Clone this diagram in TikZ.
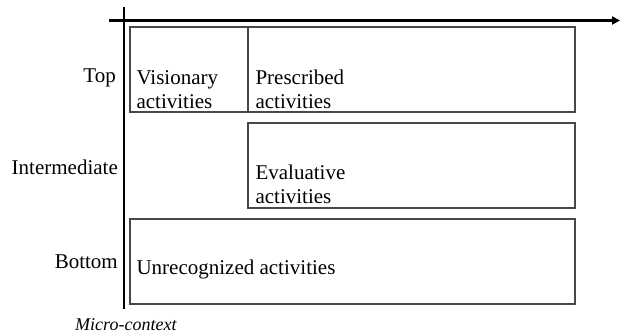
\documentclass[tikz,border=0pt]{standalone}
\usepackage{fontspec}
\setmainfont{Liberation Serif}
\usetikzlibrary{arrows.meta}
\begin{document}
\begin{tikzpicture}[x=1pt,y=-1pt,
  axis/.style={line width=2.6pt,black},
  zone/.style={draw=black!72,line width=1.3pt,rectangle,inner sep=0pt,
    minimum height=85pt},
  txt/.style={inner sep=0pt,font=\fontsize{21}{24}\selectfont,align=left,anchor=south west},
  lvl/.style={inner sep=0pt,font=\fontsize{21}{24}\selectfont,anchor=base east},
  note/.style={inner sep=0pt,font=\fontsize{18}{22}\selectfont\itshape,anchor=base west}]
\useasboundingbox (0,0) rectangle (626,335);

% axes
\coordinate (vtop) at (124,7);
\coordinate (vbot) at (124,309);
\coordinate (hl) at (109,20.5);
\coordinate (hr) at (620,20.5);
\draw[axis] (vtop) -- (vbot);
\draw[axis,-{Triangle[length=8pt,width=8pt]}] (hl) -- (hr);

% activity zones
\node[zone,minimum width=118pt] (vis) at (189,69.5) {};
\node[zone,minimum width=327pt] (pres) at (411.5,69.5) {};
\node[zone,minimum width=327pt] (eval) at (411.5,165.5) {};
\node[zone,minimum width=445pt] (unrec) at (352.5,261.5) {};

% zone texts, set just above the bottom edge of each zone
\node[txt] (tvis) at ([shift={(7,-3.5)}]vis.south west) {Visionary\\activities};
\node[txt] (tpres) at ([shift={(8,-3.5)}]pres.south west) {Prescribed\\activities};
\node[txt] (teval) at ([shift={(8,-5)}]eval.south west) {Evaluative\\activities};
\node[txt,anchor=base west] (tunrec) at ([shift={(7,56.5)}]unrec.north west) {Unrecognized activities};

% levels
\node[lvl] (ltop) at (116,82) {Top};
\node[lvl] (lmid) at (118,174) {Intermediate};
\node[lvl] (lbot) at (118,268) {Bottom};
\node[note] (micro) at (75,330) {Micro-context};
\end{tikzpicture}
\end{document}
